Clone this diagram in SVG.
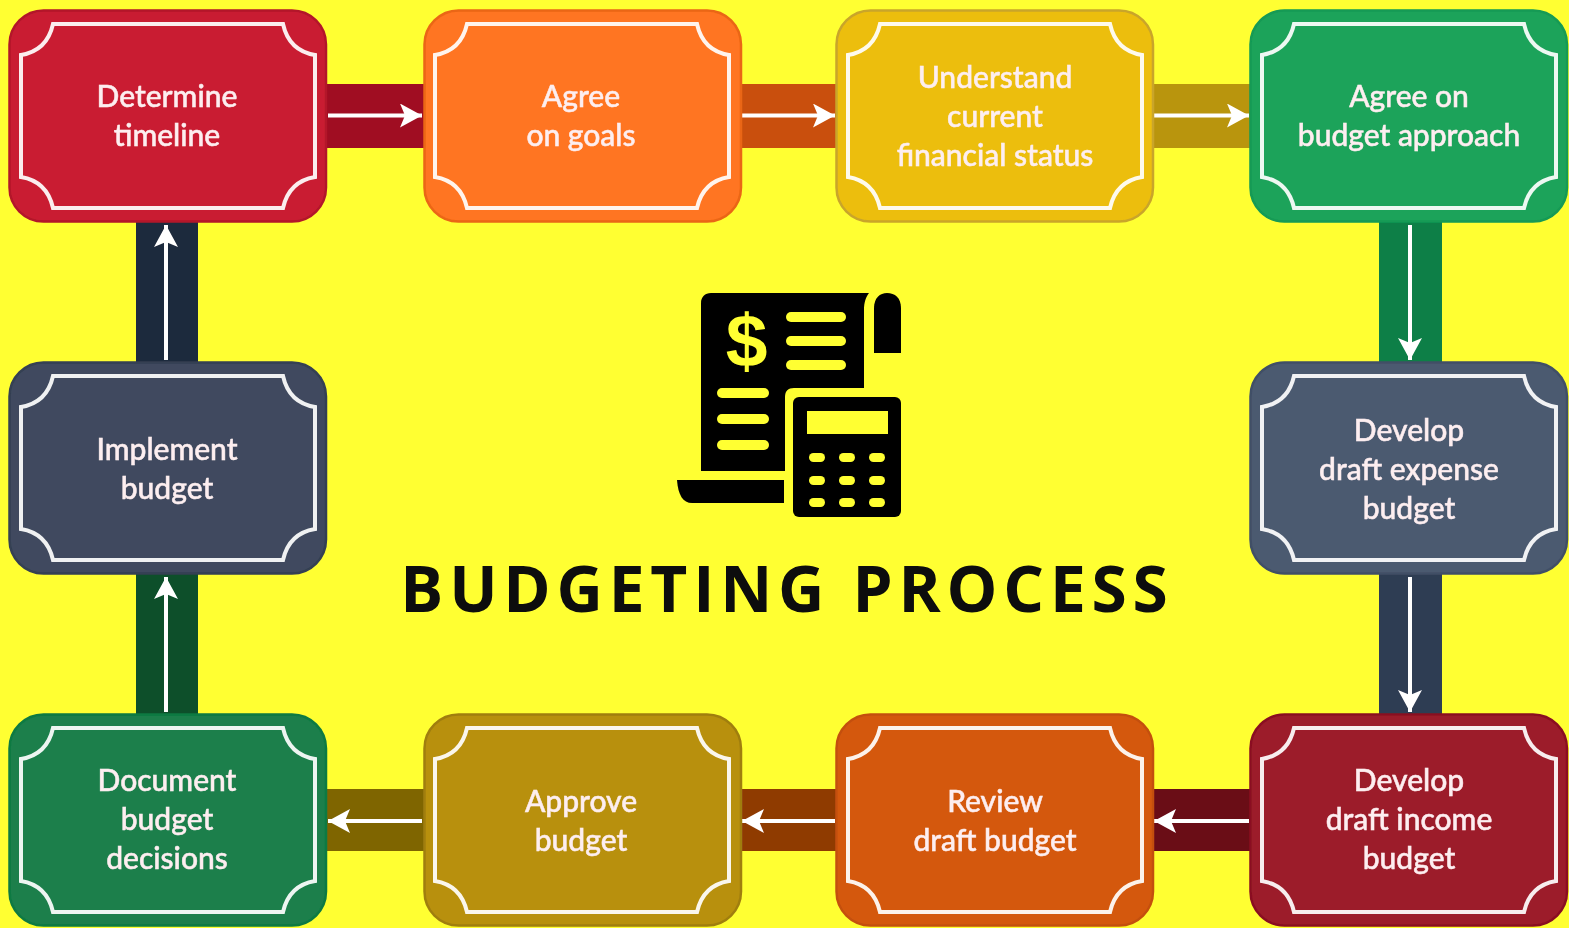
<svg xmlns="http://www.w3.org/2000/svg" width="1569" height="928" viewBox="0 0 1569 928">
<style>
.box{stroke-width:2.500}
.frame{fill:none;stroke:#fff;stroke-width:4;stroke-opacity:.92}
.lbl{font-family:"Lato","Open Sans",sans-serif;font-size:30px;font-weight:500;fill:#fdeef0;text-anchor:middle;stroke:#fdeef0;stroke-width:.5}
.wire{fill:none;stroke:#fff;stroke-width:4;marker-end:url(#ah)}
.k{fill:#ffff33}
</style>
<defs>
<filter id="soft" x="0" y="0" width="100%" height="100%" filterUnits="objectBoundingBox"><feGaussianBlur stdDeviation="0.6"/></filter>
<marker id="ah" markerUnits="userSpaceOnUse" markerWidth="24" markerHeight="26" refX="22" refY="12" orient="auto"><path d="M0 0L22 12L0 24L5 12Z" fill="#fff"/></marker>
<path id="fr" class="frame" d="M53 24H283C287 42 297 52 315 55V177C297 180 287 190 283 208H53C49 190 39 180 21 177V55C39 52 49 42 53 24Z"/>
<rect id="bx" x="9.500" y="10.500" width="316.500" height="211" rx="34"/>
</defs>
<g filter="url(#soft)">
<rect width="1569" height="928" fill="#ffff33"/>
<g id="connectors">
<rect x="325" y="84" width="100" height="64" fill="#a01022"/>
<rect x="739" y="84" width="100" height="64" fill="#c9500a"/>
<rect x="1150" y="84" width="102" height="64" fill="#b9950c"/>
<rect x="1379" y="220" width="63" height="143" fill="#0f7f46"/>
<rect x="1379" y="573" width="63" height="142" fill="#2f3c52"/>
<rect x="1150" y="789" width="102" height="62" fill="#6a0a18"/>
<rect x="739" y="789" width="100" height="62" fill="#8f3a06"/>
<rect x="325" y="789" width="100" height="62" fill="#7f6506"/>
<rect x="136" y="573" width="62" height="142" fill="#084f2a"/>
<rect x="136" y="220" width="62" height="143" fill="#1f2a3c"/>
<path class="wire" d="M328 115.500H422"/>
<path class="wire" d="M742 115.500H835"/>
<path class="wire" d="M1154 115.500H1249"/>
<path class="wire" d="M1410 225V360"/>
<path class="wire" d="M1410 577V712"/>
<path class="wire" d="M1249 821H1154"/>
<path class="wire" d="M835 821H742"/>
<path class="wire" d="M422 821H328"/>
<path class="wire" d="M166 712V577"/>
<path class="wire" d="M166 360V225"/>
</g>
<g id="n1"><use href="#bx" class="box" fill="#c91f32" stroke="#b3172a"/><use href="#fr"/><text class="lbl" x="167" y="107">Determine</text><text class="lbl" x="167" y="146">timeline</text></g>
<g id="n2"><use href="#bx" x="415" class="box" fill="#ff7420" stroke="#ea6614"/><use href="#fr" x="414"/><text class="lbl" x="581" y="107">Agree</text><text class="lbl" x="581" y="146">on goals</text></g>
<g id="n3"><use href="#bx" x="827" class="box" fill="#ecbe0e" stroke="#c9a52a"/><use href="#fr" x="827"/><text class="lbl" x="995" y="88">Understand</text><text class="lbl" x="995" y="127">current</text><text class="lbl" x="995" y="166">financial status</text></g>
<g id="n4"><use href="#bx" x="1241" class="box" fill="#1fa35a" stroke="#129a55"/><use href="#fr" x="1241"/><text class="lbl" x="1409" y="107">Agree on</text><text class="lbl" x="1409" y="146">budget approach</text></g>
<g id="n5"><use href="#bx" x="1241" y="352" class="box" fill="#4c5a70" stroke="#414f66"/><use href="#fr" x="1241" y="352"/><text class="lbl" x="1409" y="441">Develop</text><text class="lbl" x="1409" y="480">draft expense</text><text class="lbl" x="1409" y="519">budget</text></g>
<g id="n6"><use href="#bx" x="1241" y="704" class="box" fill="#9c1c2a" stroke="#8a1020"/><use href="#fr" x="1241" y="704"/><text class="lbl" x="1409" y="791">Develop</text><text class="lbl" x="1409" y="830">draft income</text><text class="lbl" x="1409" y="869">budget</text></g>
<g id="n7"><use href="#bx" x="827" y="704" class="box" fill="#d4590c" stroke="#c45008"/><use href="#fr" x="827" y="704"/><text class="lbl" x="995" y="812">Review</text><text class="lbl" x="995" y="851">draft budget</text></g>
<g id="n8"><use href="#bx" x="415" y="704" class="box" fill="#b8900e" stroke="#a07e10"/><use href="#fr" x="414" y="704"/><text class="lbl" x="581" y="812">Approve</text><text class="lbl" x="581" y="851">budget</text></g>
<g id="n9"><use href="#bx" y="704" class="box" fill="#1a7f4b" stroke="#0f7a42"/><use href="#fr" y="704"/><text class="lbl" x="167" y="791">Document</text><text class="lbl" x="167" y="830">budget</text><text class="lbl" x="167" y="869">decisions</text></g>
<g id="n10"><use href="#bx" y="352" class="box" fill="#3f4a5e" stroke="#343f52"/><use href="#fr" y="352"/><text class="lbl" x="167" y="460">Implement</text><text class="lbl" x="167" y="499">budget</text></g>
<g id="icon">
<path d="M711 293H869C866 297 864 302 864 310V388H794C788 388 785 391 785 397V471H701V303C701 297 705 293 711 293Z"/>
<path d="M874 353V308C874 298 880 293 887 293C895 293 901 298 901 308V353Z"/>
<path d="M677 480H784V503H692C683 503 678 495 677 480Z"/>
<rect x="793" y="397" width="108" height="120" rx="6"/>
<rect class="k" x="807" y="411" width="81" height="23"/>
<g class="k">
<rect x="786" y="312" width="60" height="10" rx="5"/><rect x="786" y="336" width="60" height="10" rx="5"/><rect x="786" y="360" width="60" height="10" rx="5"/>
<rect x="717" y="388" width="52" height="10" rx="5"/><rect x="717" y="414" width="52" height="10" rx="5"/><rect x="717" y="440" width="52" height="10" rx="5"/>
<rect x="809" y="453" width="16" height="9" rx="4.500"/><rect x="839" y="453" width="16" height="9" rx="4.500"/><rect x="869" y="453" width="16" height="9" rx="4.500"/>
<rect x="809" y="476" width="16" height="9" rx="4.500"/><rect x="839" y="476" width="16" height="9" rx="4.500"/><rect x="869" y="476" width="16" height="9" rx="4.500"/>
<rect x="809" y="498" width="16" height="9" rx="4.500"/><rect x="839" y="498" width="16" height="9" rx="4.500"/><rect x="869" y="498" width="16" height="9" rx="4.500"/>
</g>
<text x="746.500" y="366" font-family="'Liberation Sans',sans-serif" font-weight="700" font-size="75" text-anchor="middle" fill="#ffff33">$</text>
</g>
<text id="title" x="787" y="612" font-family="'Open Sans',sans-serif" font-weight="700" font-size="64" letter-spacing="5.800" text-anchor="middle" fill="#0a0a0a">BUDGETING PROCESS</text>
</g>
</svg>
